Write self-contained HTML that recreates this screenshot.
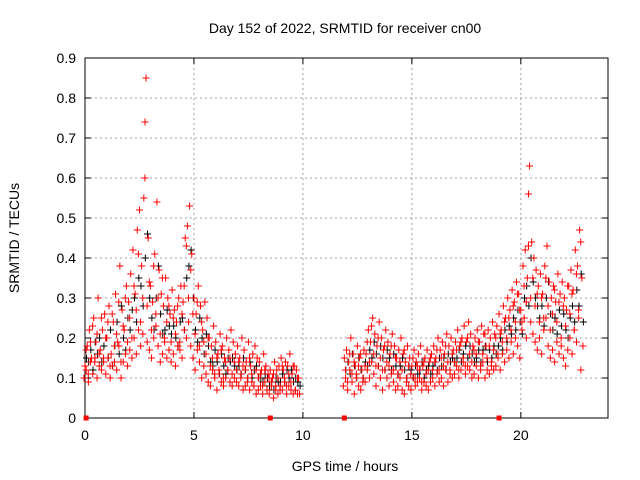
<!DOCTYPE html>
<html><head><meta charset="utf-8"><style>
html,body{margin:0;padding:0;background:#fff;width:640px;height:480px;overflow:hidden}
text{font-family:"Liberation Sans",sans-serif;font-size:14px;fill:#000}
</style></head><body>
<svg id="chart" width="640" height="480" viewBox="0 0 640 480"></svg>
<script>
// Segment start hours (data spacing 0.1 h)
const segStarts = [0.0, 11.9];
const segStartsMid = [0.05, 11.95];
const seriesStep = 0.1;
// Segment A (0.0 - 9.8 h)
const redHighA = [.13,.18,.22,.15,.25,.19,.30,.17,.22,.26,.20,.28,.16,.24,.31,.19,.38,.27,.22,.33,.29,.36,.42,.31,.47,.52,.38,.55,.85,.45,.33,.29,.41,.54,.37,.31,.28,.35,.30,.26,.32,.27,.24,.30,.33,.29,.45,.48,.53,.41,.30,.26,.33,.28,.22,.29,.25,.20,.18,.23,.19,.16,.21,.18,.15,.20,.17,.22,.19,.16,.18,.15,.20,.17,.14,.19,.13,.16,.18,.15,.14,.12,.16,.13,.11,.12,.10,.14,.12,.13,.15,.12,.14,.13,.16,.11,.13,.12,.10];
const redLowA = [.10,.12,.09,.14,.11,.15,.10,.13,.12,.14,.11,.15,.10,.13,.14,.12,.18,.10,.14,.16,.13,.17,.15,.20,.16,.22,.18,.21,.74,.19,.17,.15,.20,.23,.18,.14,.16,.19,.15,.17,.14,.16,.13,.18,.17,.15,.22,.20,.24,.18,.15,.12,.17,.14,.10,.13,.11,.09,.08,.12,.10,.07,.11,.09,.08,.10,.12,.09,.08,.10,.09,.08,.11,.07,.08,.10,.07,.09,.08,.06,.07,.08,.06,.09,.07,.06,.08,.05,.07,.06,.08,.07,.09,.06,.08,.07,.06,.07,.06];
const redMidA = [.17,.11,.19,.23,.14,.21,.16,.25,.15,.20,.24,.13,.26,.18,.21,.29,.14,.23,.30,.19,.25,.20,.33,.27,.41,.24,.30,.60,.28,.34,.22,.38,.26,.30,.21,.35,.20,.24,.28,.19,.25,.21,.28,.19,.26,.33,.43,.30,.37,.26,.21,.29,.18,.24,.19,.16,.20,.13,.15,.11,.15,.12,.17,.10,.14,.12,.15,.11,.14,.12,.14,.10,.13,.12,.09,.15,.11,.08,.12,.10,.11,.08,.12,.07,.10,.09,.11,.08,.10,.07,.13,.10,.08,.11,.09,.13,.07,.10,.06];
const blackA = [.15,.14,.17,.12,.19,.16,.20,.14,.18,.20,.15,.22,.13,.18,.24,.16,.28,.20,.17,.25,.22,.27,.30,.24,.35,.33,.28,.40,.46,.30,.25,.22,.30,.38,.26,.21,.22,.27,.23,.21,.23,.20,.18,.24,.25,.22,.35,.38,.42,.30,.22,.19,.25,.20,.16,.21,.18,.14,.13,.17,.14,.11,.16,.13,.11,.15,.14,.15,.13,.12,.13,.11,.15,.12,.10,.14,.10,.12,.13,.10,.10,.09,.11,.10,.08,.09,.07,.10,.09,.09,.11,.09,.12,.10,.12,.09,.10,.09,.08];
// Segment B (11.9 - 22.8 h)
const redHighB = [.15,.17,.14,.20,.16,.13,.18,.15,.12,.17,.16,.22,.19,.25,.21,.18,.24,.20,.17,.22,.19,.16,.21,.18,.15,.17,.20,.16,.14,.18,.15,.13,.17,.14,.16,.18,.13,.15,.17,.14,.16,.18,.15,.20,.17,.19,.16,.21,.18,.20,.17,.19,.22,.18,.20,.23,.19,.24,.21,.18,.20,.22,.19,.23,.21,.18,.22,.20,.24,.21,.23,.26,.22,.28,.25,.30,.27,.32,.29,.34,.31,.27,.38,.42,.35,.63,.44,.40,.37,.33,.36,.31,.38,.43,.34,.30,.33,.29,.36,.31,.34,.30,.27,.33,.37,.32,.42,.38,.47,.35];
const redLowB = [.08,.10,.07,.12,.09,.06,.11,.08,.07,.10,.09,.12,.10,.14,.11,.08,.13,.10,.07,.12,.10,.08,.11,.09,.07,.08,.10,.07,.06,.09,.08,.07,.10,.08,.09,.10,.07,.09,.08,.07,.09,.10,.08,.11,.09,.10,.08,.12,.09,.11,.10,.11,.13,.10,.12,.14,.11,.13,.12,.10,.11,.13,.10,.12,.14,.10,.12,.11,.13,.12,.13,.15,.12,.16,.14,.17,.15,.19,.16,.20,.18,.15,.22,.25,.20,.56,.24,.21,.19,.17,.20,.16,.22,.25,.18,.15,.17,.14,.19,.16,.18,.15,.13,.17,.20,.16,.22,.19,.25,.12];
const redMidB = [.12,.09,.16,.11,.14,.10,.13,.16,.09,.13,.19,.14,.23,.16,.13,.20,.15,.12,.18,.14,.13,.18,.12,.15,.11,.14,.12,.17,.10,.13,.11,.15,.10,.13,.12,.09,.14,.11,.12,.15,.12,.14,.17,.12,.15,.13,.18,.14,.12,.16,.14,.17,.12,.19,.15,.13,.20,.16,.14,.17,.16,.19,.13,.16,.21,.15,.18,.14,.17,.20,.16,.21,.19,.24,.20,.25,.22,.28,.24,.31,.27,.24,.33,.29,.43,.30,.35,.28,.31,.24,.30,.25,.35,.28,.22,.26,.32,.24,.29,.20,.28,.23,.33,.26,.31,.22,.36,.27,.44,.18];
const blackB = [.12,.14,.11,.16,.13,.10,.15,.12,.10,.14,.13,.17,.15,.19,.16,.13,.18,.15,.12,.17,.15,.12,.16,.13,.11,.13,.15,.12,.10,.13,.12,.10,.13,.11,.12,.14,.10,.12,.13,.11,.13,.14,.12,.15,.13,.15,.12,.16,.14,.15,.14,.15,.17,.14,.16,.18,.15,.18,.16,.14,.15,.17,.14,.17,.18,.14,.17,.15,.18,.16,.18,.20,.17,.22,.19,.23,.21,.25,.22,.27,.24,.21,.30,.33,.28,.40,.34,.30,.28,.25,.28,.23,.30,.34,.26,.22,.25,.21,.27,.23,.26,.22,.20,.25,.28,.24,.32,.28,.36,.24];
// Zero-valued (no data) markers
const zeroMarkHours = [0.05, 8.5, 11.9, 19.0];
const xTicks = [0,5,10,15,20];
const yTicks = [0,0.1,0.2,0.3,0.4,0.5,0.6,0.7,0.8,0.9];
const yTickLabels = ["0","0.1","0.2","0.3","0.4","0.5","0.6","0.7","0.8","0.9"];

const L=85,R=608,T=58,B=418,XMAX=24,YMAX=0.9;
const xs=v=>L+(R-L)*v/XMAX, ys=v=>B-(B-T)*v/YMAX;
const svg=document.getElementById('chart'),NS='http://www.w3.org/2000/svg';
function mk(tag,attrs,parent){const e=document.createElementNS(NS,tag);for(const k in attrs)e.setAttribute(k,attrs[k]);(parent||svg).appendChild(e);return e;}

const grid=mk('g',{});


xTicks.forEach(t=>{if(t>0)mk('line',{x1:xs(t),x2:xs(t),y1:T,y2:B,stroke:'#a0a0a0','stroke-dasharray':'2,3','stroke-width':1},grid);});
yTicks.forEach(t=>{if(t>0&&t<YMAX)mk('line',{x1:L,x2:R,y1:ys(t),y2:ys(t),stroke:'#a0a0a0','stroke-dasharray':'2,3','stroke-width':1},grid);});

const frame=mk('rect',{x:L,y:T,width:R-L,height:B-T,fill:'none',stroke:'#000','stroke-width':1});



xTicks.forEach(t=>{
 mk('line',{x1:xs(t),x2:xs(t),y1:B,y2:B-6,stroke:'#000'});
 mk('line',{x1:xs(t),x2:xs(t),y1:T,y2:T+6,stroke:'#000'});
 const lb=mk('text',{x:xs(t),y:B+22,'text-anchor':'middle'});lb.textContent=t;
 
 
});
yTicks.forEach((t,i)=>{
 mk('line',{x1:L,x2:L+6,y1:ys(t),y2:ys(t),stroke:'#000'});
 mk('line',{x1:R,x2:R-6,y1:ys(t),y2:ys(t),stroke:'#000'});
 const lb=mk('text',{x:L-9,y:ys(t)+5,'text-anchor':'end'});lb.textContent=yTickLabels[i];
 
 
});

function plus(g,x,y,col){mk('path',{d:`M${x-3.5},${y}h7M${x},${y-3.5}v7`,stroke:col,'stroke-width':1,fill:'none'},g);}
function series(name,starts,arrs,col,dx){
 const g=mk('g',{});
 
 
 arrs.forEach((arr,si)=>arr.forEach((v,i)=>plus(g,xs(starts[si]+i*seriesStep)+dx,ys(v),col)));
}
series('series-black',segStarts,[blackA,blackB],'#000',1.5);
series('series-red-high',segStarts,[redHighA,redHighB],'#ff0000',0);
series('series-red-low',segStarts,[redLowA,redLowB],'#ff0000',-1);
series('series-red-mid',segStartsMid,[redMidA,redMidB],'#ff0000',0);

const zg=mk('g',{});


zeroMarkHours.forEach(h=>mk('rect',{x:xs(h)-2.5,y:B-2.5,width:5,height:5,fill:'#ff0000'},zg));

const title=mk('text',{x:345,y:33,'text-anchor':'middle'});title.textContent='Day 152 of 2022, SRMTID for receiver cn00';


const xt=mk('text',{x:345,y:471,'text-anchor':'middle'});xt.textContent='GPS time / hours';


const yt=mk('text',{x:19,y:238,'text-anchor':'middle',transform:'rotate(-90 19 238)'});yt.textContent='SRMTID / TECUs';


</script>
</body></html>
